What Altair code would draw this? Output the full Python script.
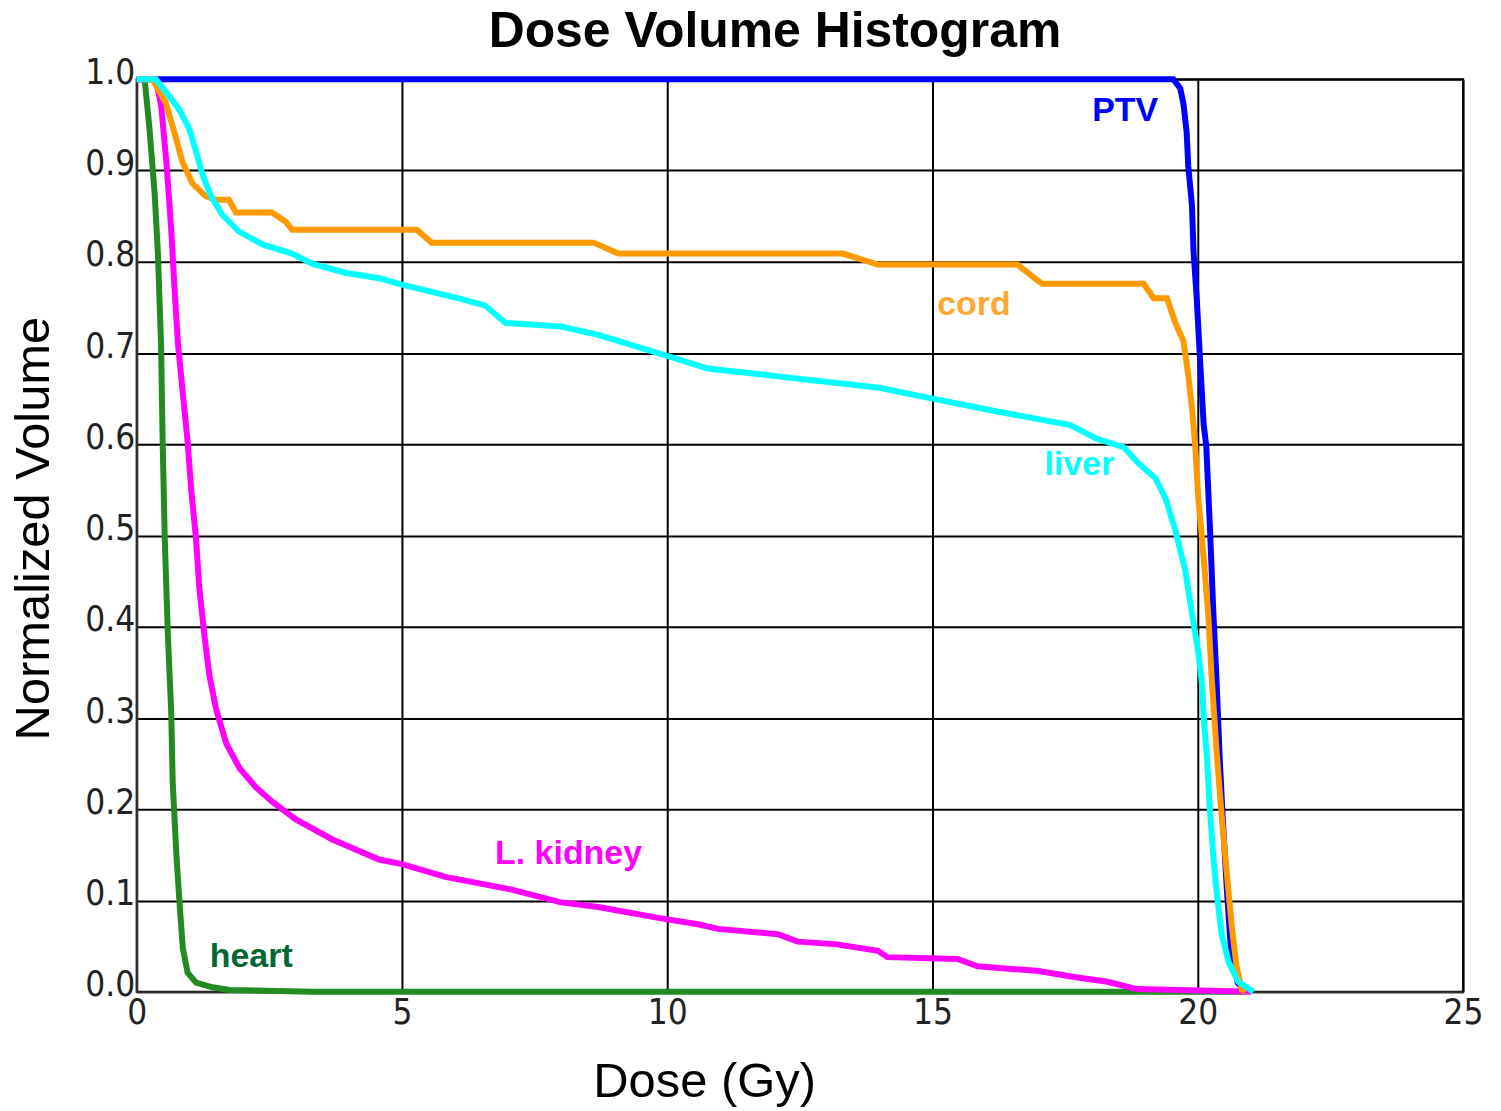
import altair as alt
import pandas as pd

# ---- data ----
ptv_dose = [0, 19.54, 19.67, 19.73, 19.79, 19.82, 19.89, 19.92, 19.98, 20.04, 20.11, 20.16,
            20.23, 20.29, 20.36, 20.41, 20.47, 20.55, 20.62, 20.75, 20.9]
ptv_vol = [1.0, 1.0, 0.99, 0.973, 0.942, 0.905, 0.862, 0.811, 0.76, 0.695, 0.622, 0.598,
           0.507, 0.42, 0.333, 0.26, 0.19, 0.11, 0.05, 0.01, 0.0]

cord_dose = [0, 0.3, 0.55, 0.71, 0.86, 1.05, 1.30, 1.49, 1.74, 1.87, 2.55, 2.81, 2.93, 5.28,
             5.56, 8.61, 9.08, 13.31, 13.97, 16.6, 16.97, 17.07, 18.98, 19.17, 19.42, 19.57,
             19.73, 19.82, 19.89, 19.95, 20.01, 20.11, 20.2, 20.26, 20.36, 20.45, 20.55, 20.64,
             20.73, 20.83, 20.9]
cord_vol = [1.0, 1.0, 0.974, 0.942, 0.91, 0.886, 0.872, 0.868, 0.868, 0.854, 0.854, 0.844,
            0.835, 0.835, 0.821, 0.821, 0.809, 0.809, 0.797, 0.797, 0.78, 0.776, 0.776, 0.76,
            0.76, 0.734, 0.713, 0.676, 0.64, 0.6, 0.541, 0.476, 0.411, 0.346, 0.259, 0.193,
            0.128, 0.072, 0.028, 0.002, 0.0]

liver_dose = [0, 0.36, 0.58, 0.80, 0.99, 1.12, 1.24, 1.40, 1.62, 1.93, 2.37, 2.93, 3.31, 3.93,
              4.57, 5.0, 6.13, 6.57, 6.95, 8.0, 8.7, 9.83, 10.77, 12.46, 14.0, 15.0, 16.22,
              17.6, 18.1, 18.6, 18.9, 19.2, 19.39, 19.57, 19.76, 19.89, 20.01, 20.08, 20.11,
              20.17, 20.23, 20.29, 20.36, 20.45, 20.58, 20.76, 21.05]
liver_vol = [1.0, 1.0, 0.984, 0.967, 0.946, 0.921, 0.896, 0.872, 0.851, 0.833, 0.819, 0.809,
             0.798, 0.788, 0.782, 0.775, 0.759, 0.752, 0.733, 0.729, 0.72, 0.70, 0.683, 0.672,
             0.662, 0.65, 0.636, 0.621, 0.606, 0.597, 0.578, 0.563, 0.541, 0.507, 0.463,
             0.415, 0.372, 0.337, 0.302, 0.259, 0.198, 0.15, 0.107, 0.063, 0.033, 0.011, 0.0]

kidney_dose = [0, 0.36, 0.46, 0.56, 0.65, 0.72, 0.78, 0.87, 0.96, 1.03, 1.12, 1.18, 1.28,
               1.37, 1.50, 1.69, 1.94, 2.25, 2.56, 3.0, 3.69, 4.57, 5.0, 5.82, 7.07, 8.0,
               8.7, 9.83, 10.58, 10.96, 12.1, 12.46, 13.2, 13.97, 14.15, 15.47, 15.85, 16.97,
               17.7, 18.3, 18.85, 21.0]
kidney_vol = [1.0, 1.0, 0.972, 0.91, 0.837, 0.765, 0.709, 0.656, 0.603, 0.549, 0.496, 0.443,
              0.389, 0.347, 0.309, 0.272, 0.245, 0.224, 0.208, 0.189, 0.167, 0.145, 0.14,
              0.126, 0.112, 0.098, 0.093, 0.081, 0.074, 0.069, 0.063, 0.055, 0.052, 0.045,
              0.038, 0.036, 0.028, 0.023, 0.016, 0.011, 0.003, 0.0]

heart_dose = [0, 0.15, 0.24, 0.34, 0.40, 0.46, 0.49, 0.53, 0.59, 0.65, 0.68, 0.75, 0.81, 0.87,
              0.96, 1.12, 1.43, 1.75, 3.31, 20.9]
heart_vol = [1.0, 1.0, 0.947, 0.874, 0.81, 0.709, 0.603, 0.496, 0.389, 0.309, 0.229, 0.149,
             0.096, 0.048, 0.021, 0.01, 0.005, 0.002, 0.0, 0.0]

label_text = ["PTV", "cord", "liver", "L. kidney", "heart"]
label_dose = [18.63, 15.78, 17.77, 8.14, 2.16]
label_vol = [0.954, 0.742, 0.566, 0.14, 0.027]
label_color = ["#0000FF", "#FFA733", "#00FFFF", "#FF00FF", "#006633"]

x_ticks = [0, 5, 10, 15, 20, 25]
y_ticks = [0.0, 0.1, 0.2, 0.3, 0.4, 0.5, 0.6, 0.7, 0.8, 0.9, 1.0]

# draw order: PTV, heart, kidney, cord, liver
series = [
    ("PTV", ptv_dose, ptv_vol, "#0000FF"),
    ("heart", heart_dose, heart_vol, "#228B22"),
    ("L. kidney", kidney_dose, kidney_vol, "#FF00FF"),
    ("cord", cord_dose, cord_vol, "#FF9900"),
    ("liver", liver_dose, liver_vol, "#00FFFF"),
]

TICK_FONT = "Liberation Sans Narrow, DejaVu Sans Condensed, Liberation Sans, Arial"
FONT = "Liberation Sans, Arial, Helvetica"

x_scale = alt.Scale(domain=[0, 25], nice=False, zero=False)
y_scale = alt.Scale(domain=[0, 1], nice=False)

x_axis = alt.Axis(
    values=x_ticks, format="d", title="Dose (Gy)", grid=True, ticks=False, tickSize=0,
    labelFont=TICK_FONT, labelFontSize=35, labelColor="#222222", labelPadding=4,
    labelFlush=False, labelBaseline="top", labelAlign="center",
    titleFont=FONT, titleFontSize=49, titleFontWeight="normal", titleColor="black",
    titleX=569, titleY=105, titleAlign="center", titleBaseline="alphabetic",
)
y_axis = alt.Axis(
    values=y_ticks, format=".1f", title="Normalized Volume", grid=True, ticks=False, tickSize=0,
    labelFont=TICK_FONT, labelFontSize=35, labelColor="#222222", labelPadding=2,
    labelAlign="right", labelBaseline="alphabetic", labelOffset=4, labelFlush=False,
    titleFont=FONT, titleFontSize=49, titleFontWeight="normal", titleColor="black",
    titleX=-88, titleY=450, titleAngle=270, titleAlign="center", titleBaseline="alphabetic",
)

X = alt.X("dose:Q", scale=x_scale, axis=x_axis)
Y = alt.Y("vol:Q", scale=y_scale, axis=y_axis)

layers = []
for name, d, v, col in series:
    df = pd.DataFrame({"dose": d, "vol": v, "i": list(range(len(d)))})
    layers.append(
        alt.Chart(df).mark_line(color=col, strokeWidth=6, strokeJoin="miter").encode(
            x=X, y=Y, order=alt.Order("i:Q")
        )
    )

lab_df = pd.DataFrame({"t": label_text, "dose": label_dose, "vol": label_vol, "c": label_color})
labels = alt.Chart(lab_df).mark_text(
    font=FONT, fontSize=34, fontWeight="bold", align="center", baseline="alphabetic"
).encode(
    x=X,
    y=Y,
    text="t:N",
    color=alt.Color("c:N", scale=None),
)

chart = alt.layer(*layers, labels).properties(
    width=1330,
    height=915,
    autosize=alt.AutoSizeParams(type="none"),
    padding={"left": 129, "top": 70, "right": 30, "bottom": 115},
    title=alt.TitleParams(
        "Dose Volume Histogram", font=FONT, fontSize=50, fontWeight="bold", color="black",
        anchor="middle", dx=-25, dy=46, baseline="alphabetic", offset=4,
    ),
).configure_axis(
    gridColor="black", gridWidth=2, gridOpacity=1,
    domainColor="#333333", domainWidth=2,
).configure_view(stroke="black", strokeWidth=2)

chart.save("out.html", embed_options={"renderer": "svg", "actions": False})
